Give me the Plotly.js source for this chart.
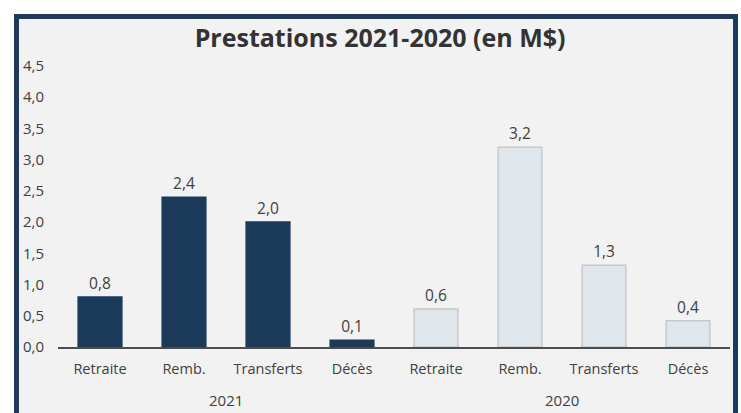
<!DOCTYPE html>
<html>
<head>
<meta charset="utf-8">
<script src="https://cdn.plot.ly/plotly-3.0.1.min.js"></script>
<style>
html,body{margin:0;padding:0;background:#ffffff;}
#chart{width:741px;height:413px;}
</style>
</head>
<body>
<div id="chart"></div>
<script>
const years = ["2021","2021","2021","2021","2020","2020","2020","2020"];
const categories = ["Retraite","Remb.","Transferts","Décès","Retraite","Remb.","Transferts","Décès"];
const values = [0.8, 2.4, 2.0, 0.11, 0.61, 3.2, 1.31, 0.42];
const yTickVals = [0,0.5,1,1.5,2,2.5,3,3.5,4,4.5];

const dark = "#1b3a5a";
const light = "#dfe6ec";
const positions = categories.map((c, i) => i);
const fillColors = years.map(y => y === "2021" ? dark : light);
const lineColors = years.map(y => y === "2021" ? dark : "#c4c8cc");

// year group labels, centred under their categories
const yearGroups = [...new Set(years)].map(yr => {
  const idx = positions.filter(i => years[i] === yr);
  return {text: yr, x: (idx[0] + idx[idx.length - 1]) / 2};
});

const W = 741, H = 413, ml = 58, mr = 11, mt = 66, mb = 66;
const pw = W - ml - mr, ph = H - mt - mb;
const px = v => (v - ml) / pw;
const py = v => (H - mb - v) / ph;
const FONT = "Open Sans, sans-serif";

const trace = {
  type: "bar",
  x: positions,
  y: values,
  width: 0.52,
  marker: {color: fillColors, line: {color: lineColors, width: 1.5}},
  texttemplate: "%{y:.1f}",
  textposition: "outside",
  textfont: {family: FONT, size: 15.5, color: "#404040"},
  cliponaxis: false,
  hoverinfo: "y"
};

const layout = {
  width: W, height: H,
  margin: {l: ml, r: mr, t: mt, b: mb},
  paper_bgcolor: "rgba(0,0,0,0)",
  plot_bgcolor: "rgba(0,0,0,0)",
  separators: ", ",
  showlegend: false,
  title: {
    text: "<b>Prestations 2021-2020 (en M$)</b>",
    font: {family: FONT, size: 25, color: "#333333"},
    x: 0.513, xanchor: "center", xref: "container",
    y: 1 - 38/H, yanchor: "middle", yref: "container"
  },
  xaxis: {
    type: "linear",
    range: [-0.5, positions.length - 0.5],
    tickvals: positions,
    ticktext: categories,
    showline: true, linecolor: "#4d4d4d", linewidth: 1.5,
    ticks: "",
    showgrid: false, zeroline: false,
    ticklabelstandoff: 8,
    tickfont: {family: FONT, size: 14.5, color: "#404040"}
  },
  yaxis: {
    range: [0, 4.5],
    tickvals: yTickVals,
    tickformat: ".1f",
    showgrid: false, zeroline: false, showline: false,
    ticks: "",
    ticklabelstandoff: 13,
    tickfont: {family: FONT, size: 15, color: "#404040"}
  },
  annotations: yearGroups.map(g => ({
    text: g.text, x: g.x, xref: "x",
    y: py(400), yref: "paper", yanchor: "middle",
    showarrow: false,
    font: {family: FONT, size: 15, color: "#404040"}
  })),
  shapes: [{
    type: "rect", layer: "below",
    xref: "paper", yref: "paper",
    x0: px(16.5), x1: px(735.5), y0: py(440), y1: py(16.5),
    fillcolor: "#f2f2f2",
    line: {color: "#1b3a5c", width: 5}
  }]
};

Plotly.newPlot("chart", [trace], layout, {displayModeBar: false, staticPlot: true});
</script>
</body>
</html>
